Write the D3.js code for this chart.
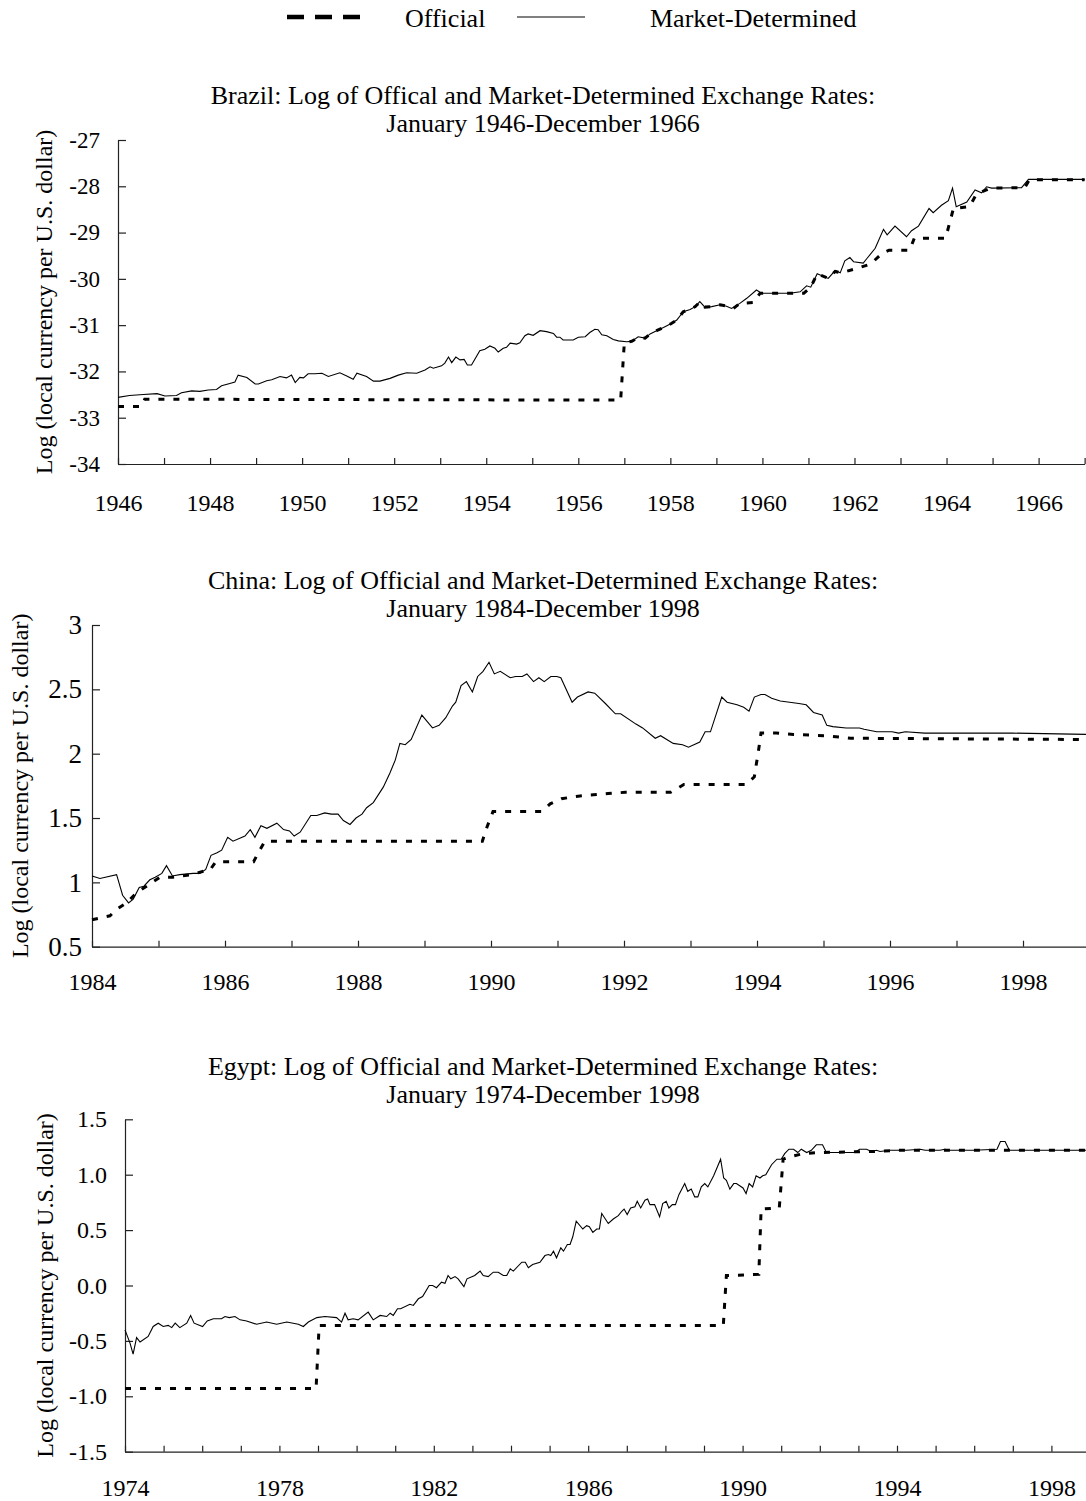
<!DOCTYPE html>
<html>
<head>
<meta charset="utf-8">
<script src="https://cdn.jsdelivr.net/npm/d3@7"></script>
<style>
  html, body { margin: 0; padding: 0; background: #fff; }
  svg { display: block; }
  text { font-family: "Liberation Serif", "Times New Roman", serif; fill: #000; }
</style>
</head>
<body>
<svg id="chart" width="1086" height="1501"></svg>
<script>
// ---------------- DATA ----------------
const legendLabels = ["Official", "Market-Determined"];

const brazilTitle = ["Brazil: Log of Offical and Market-Determined Exchange Rates:", "January 1946-December 1966"];
const brazilYTicks = [-34, -33, -32, -31, -30, -29, -28, -27];
const brazilYears = d3.range(1946, 1968);
const brazilMarket = [[1946.00,-32.56],[1946.25,-32.52],[1946.55,-32.50],[1946.85,-32.48],[1947.02,-32.53],[1947.27,-32.52],[1947.38,-32.46],[1947.60,-32.42],[1947.78,-32.43],[1947.96,-32.40],[1948.14,-32.39],[1948.25,-32.31],[1948.43,-32.26],[1948.54,-32.23],[1948.61,-32.08],[1948.80,-32.13],[1948.98,-32.27],[1949.05,-32.27],[1949.23,-32.20],[1949.34,-32.18],[1949.52,-32.11],[1949.66,-32.14],[1949.77,-32.08],[1949.85,-32.24],[1949.95,-32.13],[1950.03,-32.14],[1950.13,-32.05],[1950.28,-32.05],[1950.43,-32.04],[1950.57,-32.11],[1950.82,-32.03],[1950.97,-32.10],[1951.11,-32.17],[1951.19,-32.04],[1951.40,-32.11],[1951.55,-32.21],[1951.69,-32.21],[1951.91,-32.15],[1952.09,-32.08],[1952.27,-32.03],[1952.49,-32.04],[1952.67,-31.97],[1952.78,-31.90],[1952.85,-31.93],[1953.03,-31.88],[1953.10,-31.82],[1953.18,-31.69],[1953.25,-31.81],[1953.34,-31.69],[1953.43,-31.75],[1953.52,-31.74],[1953.59,-31.86],[1953.68,-31.86],[1953.86,-31.55],[1953.97,-31.52],[1954.08,-31.45],[1954.19,-31.50],[1954.26,-31.58],[1954.37,-31.50],[1954.44,-31.48],[1954.52,-31.39],[1954.66,-31.41],[1954.73,-31.38],[1954.84,-31.23],[1954.91,-31.19],[1955.02,-31.22],[1955.17,-31.12],[1955.31,-31.14],[1955.46,-31.18],[1955.53,-31.26],[1955.60,-31.26],[1955.67,-31.32],[1955.89,-31.32],[1956.00,-31.26],[1956.15,-31.25],[1956.25,-31.16],[1956.36,-31.09],[1956.43,-31.10],[1956.51,-31.21],[1956.62,-31.23],[1956.76,-31.31],[1956.87,-31.34],[1957.05,-31.36],[1957.16,-31.35],[1957.30,-31.25],[1957.45,-31.28],[1957.56,-31.19],[1957.70,-31.12],[1957.85,-31.05],[1958.03,-30.96],[1958.14,-30.89],[1958.28,-30.71],[1958.43,-30.66],[1958.54,-30.60],[1958.64,-30.49],[1958.75,-30.61],[1958.90,-30.60],[1959.08,-30.56],[1959.22,-30.59],[1959.33,-30.64],[1959.51,-30.53],[1959.66,-30.42],[1959.87,-30.24],[1959.98,-30.31],[1960.24,-30.31],[1960.60,-30.31],[1960.82,-30.28],[1960.96,-30.15],[1961.05,-30.18],[1961.19,-29.89],[1961.43,-29.99],[1961.58,-29.82],[1961.69,-29.87],[1961.79,-29.61],[1961.90,-29.54],[1961.98,-29.63],[1962.19,-29.66],[1962.27,-29.56],[1962.45,-29.34],[1962.63,-28.93],[1962.71,-29.05],[1962.88,-28.86],[1963.13,-29.09],[1963.24,-28.96],[1963.39,-28.86],[1963.62,-28.48],[1963.71,-28.57],[1963.89,-28.41],[1964.04,-28.31],[1964.13,-28.04],[1964.21,-28.44],[1964.44,-28.34],[1964.62,-28.08],[1964.76,-28.14],[1964.87,-28.01],[1964.98,-28.04],[1965.63,-28.03],[1965.78,-27.85],[1966.83,-27.85],[1967.00,-27.85]];
const brazilOfficial = [[1946.0,-32.76],[1946.5,-32.76],[1946.58,-32.60],[1956.92,-32.62],[1957.0,-31.38],[1957.16,-31.35],[1957.30,-31.27],[1957.45,-31.28],[1957.56,-31.19],[1957.70,-31.12],[1957.85,-31.05],[1958.03,-30.96],[1958.14,-30.89],[1958.28,-30.71],[1958.43,-30.66],[1958.54,-30.60],[1958.64,-30.50],[1958.75,-30.61],[1958.90,-30.60],[1959.08,-30.56],[1959.22,-30.59],[1959.37,-30.64],[1959.51,-30.53],[1959.8,-30.51],[1959.95,-30.31],[1960.9,-30.31],[1961.05,-30.18],[1961.19,-29.89],[1961.43,-29.99],[1961.58,-29.84],[1961.7,-29.87],[1962.0,-29.79],[1962.35,-29.68],[1962.6,-29.45],[1962.75,-29.38],[1963.2,-29.38],[1963.3,-29.12],[1963.98,-29.12],[1964.15,-28.48],[1964.5,-28.44],[1964.65,-28.17],[1964.95,-28.04],[1965.7,-28.03],[1965.8,-27.86],[1967.0,-27.86]];

const chinaTitle = ["China: Log of Official and Market-Determined Exchange Rates:", "January 1984-December 1998"];
const chinaYTicks = [0.5, 1, 1.5, 2, 2.5, 3];
const chinaYears = d3.range(1984, 2000);
const chinaMarket = [[1984.00,1.05],[1984.12,1.03],[1984.37,1.06],[1984.46,0.90],[1984.55,0.84],[1984.62,0.87],[1984.71,0.96],[1984.78,0.97],[1984.87,1.02],[1984.95,1.04],[1985.05,1.07],[1985.12,1.13],[1985.21,1.05],[1985.32,1.06],[1985.52,1.07],[1985.62,1.07],[1985.71,1.10],[1985.79,1.21],[1985.88,1.23],[1985.95,1.25],[1986.04,1.35],[1986.12,1.32],[1986.30,1.36],[1986.38,1.41],[1986.45,1.35],[1986.54,1.44],[1986.63,1.42],[1986.78,1.46],[1986.88,1.41],[1986.97,1.40],[1987.04,1.36],[1987.13,1.39],[1987.29,1.52],[1987.38,1.52],[1987.50,1.54],[1987.60,1.53],[1987.70,1.53],[1987.78,1.48],[1987.88,1.45],[1987.97,1.50],[1988.06,1.53],[1988.13,1.58],[1988.23,1.62],[1988.38,1.74],[1988.48,1.85],[1988.56,1.95],[1988.63,2.08],[1988.71,2.07],[1988.80,2.11],[1988.96,2.30],[1989.12,2.20],[1989.22,2.22],[1989.32,2.28],[1989.42,2.37],[1989.47,2.40],[1989.55,2.53],[1989.63,2.56],[1989.72,2.48],[1989.80,2.60],[1989.88,2.64],[1989.97,2.71],[1990.05,2.62],[1990.14,2.64],[1990.29,2.59],[1990.37,2.60],[1990.47,2.60],[1990.54,2.62],[1990.64,2.56],[1990.72,2.59],[1990.80,2.56],[1990.90,2.60],[1990.99,2.60],[1991.05,2.59],[1991.22,2.40],[1991.30,2.44],[1991.46,2.48],[1991.56,2.47],[1991.72,2.39],[1991.87,2.31],[1991.95,2.31],[1992.18,2.23],[1992.28,2.20],[1992.47,2.12],[1992.55,2.14],[1992.74,2.08],[1992.88,2.07],[1992.97,2.05],[1993.14,2.09],[1993.22,2.17],[1993.30,2.17],[1993.47,2.44],[1993.55,2.40],[1993.70,2.38],[1993.80,2.36],[1993.88,2.33],[1993.96,2.44],[1994.06,2.46],[1994.12,2.46],[1994.22,2.43],[1994.35,2.41],[1994.63,2.39],[1994.74,2.38],[1994.85,2.32],[1994.98,2.30],[1995.05,2.22],[1995.14,2.21],[1995.34,2.20],[1995.54,2.20],[1995.61,2.19],[1995.80,2.17],[1995.90,2.17],[1996.03,2.17],[1996.13,2.16],[1996.23,2.17],[1996.52,2.16],[1997.18,2.16],[1997.84,2.16],[1998.95,2.15]];
const chinaOfficial = [[1984.0,0.71],[1984.27,0.74],[1984.37,0.79],[1984.52,0.84],[1984.67,0.92],[1984.82,0.97],[1985.02,1.04],[1985.22,1.04],[1985.50,1.06],[1985.70,1.09],[1985.78,1.10],[1985.86,1.16],[1986.43,1.16],[1986.50,1.23],[1986.60,1.32],[1989.87,1.32],[1989.94,1.43],[1990.03,1.55],[1990.76,1.55],[1990.89,1.61],[1991.06,1.65],[1991.31,1.67],[1991.54,1.68],[1991.76,1.69],[1992.02,1.70],[1992.7,1.70],[1992.9,1.76],[1993.83,1.76],[1993.96,1.82],[1994.03,2.05],[1994.06,2.16],[1994.29,2.16],[1994.55,2.15],[1995.01,2.14],[1995.41,2.12],[1998.95,2.11]];

const egyptTitle = ["Egypt: Log of Official and Market-Determined Exchange Rates:", "January 1974-December 1998"];
const egyptYTicks = [-1.5, -1.0, -0.5, 0.0, 0.5, 1.0, 1.5];
const egyptYears = d3.range(1974, 2000);
const egyptMarket = [[1974.00,-0.40],[1974.13,-0.52],[1974.21,-0.62],[1974.30,-0.47],[1974.39,-0.51],[1974.60,-0.46],[1974.73,-0.37],[1974.86,-0.34],[1974.99,-0.37],[1975.12,-0.36],[1975.21,-0.38],[1975.30,-0.34],[1975.42,-0.38],[1975.60,-0.34],[1975.70,-0.27],[1975.79,-0.34],[1976.01,-0.37],[1976.13,-0.32],[1976.29,-0.30],[1976.50,-0.30],[1976.59,-0.28],[1976.70,-0.29],[1976.85,-0.28],[1976.98,-0.31],[1977.15,-0.32],[1977.41,-0.35],[1977.67,-0.33],[1977.93,-0.35],[1978.19,-0.33],[1978.49,-0.35],[1978.62,-0.37],[1978.75,-0.33],[1978.97,-0.29],[1979.18,-0.28],[1979.48,-0.29],[1979.61,-0.33],[1979.70,-0.25],[1979.78,-0.31],[1979.91,-0.30],[1980.04,-0.31],[1980.30,-0.24],[1980.43,-0.31],[1980.61,-0.27],[1980.78,-0.28],[1980.87,-0.25],[1980.95,-0.27],[1981.06,-0.21],[1981.14,-0.21],[1981.38,-0.17],[1981.47,-0.18],[1981.60,-0.12],[1981.71,-0.10],[1981.88,0.00],[1981.97,0.00],[1982.07,-0.02],[1982.20,0.03],[1982.29,0.02],[1982.37,0.09],[1982.44,0.06],[1982.55,0.08],[1982.63,0.06],[1982.78,-0.01],[1982.86,0.06],[1983.06,0.09],[1983.20,0.13],[1983.28,0.09],[1983.41,0.08],[1983.54,0.12],[1983.67,0.12],[1983.80,0.09],[1983.89,0.09],[1983.98,0.15],[1984.06,0.13],[1984.28,0.21],[1984.37,0.21],[1984.45,0.16],[1984.56,0.19],[1984.75,0.21],[1984.88,0.27],[1984.97,0.28],[1985.03,0.27],[1985.10,0.31],[1985.18,0.25],[1985.29,0.34],[1985.36,0.31],[1985.46,0.37],[1985.53,0.37],[1985.60,0.44],[1985.69,0.58],[1985.86,0.51],[1985.96,0.54],[1986.03,0.53],[1986.12,0.48],[1986.22,0.51],[1986.29,0.51],[1986.35,0.65],[1986.52,0.56],[1986.65,0.60],[1986.78,0.63],[1986.87,0.67],[1986.93,0.69],[1987.01,0.64],[1987.10,0.70],[1987.21,0.71],[1987.27,0.76],[1987.36,0.70],[1987.47,0.77],[1987.54,0.78],[1987.60,0.73],[1987.72,0.73],[1987.85,0.62],[1987.93,0.74],[1988.02,0.76],[1988.09,0.70],[1988.18,0.73],[1988.26,0.73],[1988.35,0.82],[1988.50,0.92],[1988.58,0.85],[1988.67,0.87],[1988.76,0.80],[1988.84,0.80],[1988.93,0.89],[1989.02,0.92],[1989.10,0.89],[1989.25,0.99],[1989.43,1.14],[1989.51,0.97],[1989.58,0.95],[1989.67,0.87],[1989.77,0.92],[1989.84,0.92],[1990.01,0.88],[1990.09,0.83],[1990.17,0.92],[1990.26,0.89],[1990.35,0.99],[1990.45,0.97],[1990.52,0.99],[1990.60,1.00],[1990.75,1.09],[1990.89,1.14],[1991.00,1.14],[1991.09,1.19],[1991.20,1.23],[1991.32,1.23],[1991.43,1.20],[1991.52,1.23],[1991.66,1.20],[1991.78,1.22],[1991.91,1.27],[1992.07,1.27],[1992.17,1.20],[1992.91,1.20],[1993.03,1.23],[1993.21,1.23],[1993.34,1.21],[1993.47,1.22],[1993.56,1.21],[1993.82,1.22],[1994.25,1.22],[1994.60,1.23],[1994.73,1.22],[1995.11,1.22],[1995.24,1.23],[1995.37,1.22],[1995.98,1.22],[1996.59,1.23],[1996.68,1.30],[1996.80,1.30],[1996.91,1.22],[1998.95,1.22]];
const egyptOfficial = [[1974.0,-0.93],[1978.95,-0.93],[1979.03,-0.36],[1989.5,-0.36],[1989.58,0.09],[1990.42,0.10],[1990.48,0.69],[1990.95,0.70],[1991.05,1.14],[1991.2,1.16],[1991.57,1.19],[1991.96,1.20],[1993.5,1.21],[1994.0,1.22],[1998.95,1.22]];

// ---------------- LAYOUT ----------------
const svg = d3.select("#chart");
const FONT = "Liberation Serif, Times New Roman, serif";

// Legend
const legend = svg.append("g");
legend.append("line").attr("x1", 287).attr("x2", 360).attr("y1", 17).attr("y2", 17)
  .attr("stroke", "#000").attr("stroke-width", 4.5).attr("stroke-dasharray", "17,11");
legend.append("text").attr("x", 405).attr("y", 27).attr("font-size", 26).text(legendLabels[0]);
legend.append("line").attr("x1", 517).attr("x2", 585).attr("y1", 17).attr("y2", 17)
  .attr("stroke", "#000").attr("stroke-width", 1);
legend.append("text").attr("x", 650).attr("y", 27).attr("font-size", 26).text(legendLabels[1]);

const panels = [
  { title: brazilTitle, titleY: 104, market: brazilMarket, official: brazilOfficial,
    years: brazilYears, yTicks: brazilYTicks, yDomain: [-34, -27],
    xRange: [118, 118 + 21 * 46.03], yRange: [464, 140], labelEvery: 2, labelStart: 1946,
    yFmt: d => String(d), yPad: 18, yFont: 23, xPad: 30, yTitleX: 44 },
  { title: chinaTitle, titleY: 589, market: chinaMarket, official: chinaOfficial,
    years: chinaYears, yTicks: chinaYTicks, yDomain: [0.5, 3],
    xRange: [92, 92 + 15 * 66.5], yRange: [946.7, 625], labelEvery: 2, labelStart: 1984,
    yFmt: d => String(d), yPad: 10, yFont: 27, xPad: 26, yTitleX: 20 },
  { title: egyptTitle, titleY: 1075, market: egyptMarket, official: egyptOfficial,
    years: egyptYears, yTicks: egyptYTicks, yDomain: [-1.5, 1.5],
    xRange: [125, 125 + 25 * 38.6], yRange: [1451.7, 1119.3], labelEvery: 4, labelStart: 1974,
    yFmt: d => d.toFixed(1), yPad: 18, yFont: 24, xPad: 27, yTitleX: 45 }
];

panels.forEach(p => {
  const x = d3.scaleLinear().domain([p.years[0], p.years[p.years.length - 1]]).range(p.xRange);
  const y = d3.scaleLinear().domain(p.yDomain).range(p.yRange);
  const g = svg.append("g");

  // Titles
  g.append("text").attr("x", 543).attr("y", p.titleY).attr("text-anchor", "middle")
    .attr("font-size", 26).text(p.title[0]);
  g.append("text").attr("x", 543).attr("y", p.titleY + 28).attr("text-anchor", "middle")
    .attr("font-size", 26).text(p.title[1]);

  // Y axis
  const yAxis = d3.axisLeft(y).tickValues(p.yTicks).tickFormat(p.yFmt)
    .tickSize(-8).tickSizeOuter(0).tickPadding(p.yPad);
  const gy = g.append("g").attr("transform", `translate(${p.xRange[0]},0)`).call(yAxis);
  gy.selectAll("text").attr("font-family", FONT).attr("font-size", p.yFont).attr("fill", "#000");
  gy.selectAll("line, path").attr("stroke", "#222").attr("stroke-width", 1.2);

  // X axis
  const xAxis = d3.axisBottom(x).tickValues(p.years)
    .tickFormat(d => ((d - p.labelStart) % p.labelEvery === 0 ? String(d) : ""))
    .tickSize(-6).tickSizeOuter(0).tickPadding(p.xPad);
  const gx = g.append("g").attr("transform", `translate(0,${p.yRange[0]})`).call(xAxis);
  gx.selectAll("text").attr("font-family", FONT).attr("font-size", 24).attr("fill", "#000");
  gx.selectAll("line, path").attr("stroke", "#222").attr("stroke-width", 1.2);

  // Y title
  const cy = (p.yRange[0] + p.yRange[1]) / 2;
  g.append("text").attr("transform", `translate(${p.yTitleX},${cy}) rotate(-90)`)
    .attr("text-anchor", "middle").attr("dominant-baseline", "central")
    .attr("font-size", 24).text("Log (local currency per U.S. dollar)");

  const line = d3.line().x(d => x(d[0])).y(d => y(d[1]));

  g.append("path").datum(p.market).attr("d", line)
    .attr("fill", "none").attr("stroke", "#000").attr("stroke-width", 1.1);
  g.append("path").datum(p.official).attr("d", line)
    .attr("fill", "none").attr("stroke", "#000").attr("stroke-width", 3)
    .attr("stroke-dasharray", "6,9");
});
</script>
</body>
</html>
